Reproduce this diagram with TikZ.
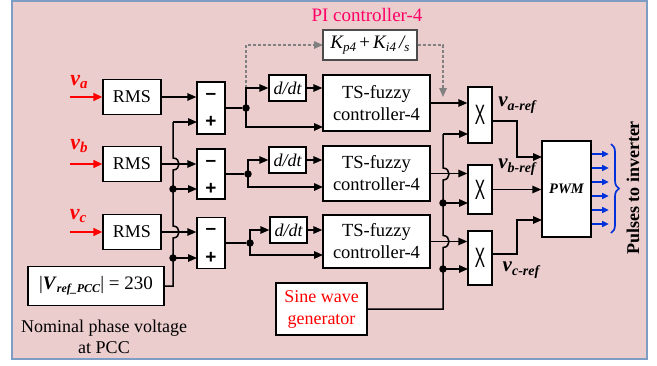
\documentclass[tikz,border=0pt]{standalone}
\usepackage{fontspec}
\setmainfont{Liberation Serif}
\newfontfamily\sansx{Liberation Sans}
\usetikzlibrary{arrows.meta,decorations.pathreplacing}
\definecolor{bgpink}{RGB}{236,205,205}
\definecolor{frameblue}{RGB}{126,157,197}
\definecolor{pilab}{RGB}{255,0,102}
\definecolor{pulseblue}{RGB}{0,50,220}
\newcommand{\sbs}[2][13]{\raisebox{-0.35ex}{\fontsize{#1}{#1}\selectfont #2}}
\tikzset{
  blk/.style={draw, fill=white, line width=1.4pt, inner sep=0pt, align=center,
    font=\fontsize{18}{22}\selectfont},
  wire/.style={line width=1.5pt},
  arr/.style={wire, -{Triangle[length=9pt,width=7.5pt]}},
  redarr/.style={line width=1.6pt, red, -{Triangle[length=9pt,width=8pt]}},
  bluearr/.style={line width=1.2pt, pulseblue, -{Triangle[length=6.5pt,width=6pt]}},
  gdash/.style={line width=1.5pt, gray, dash pattern=on 3pt off 2pt,
    -{Triangle[length=9pt,width=7.5pt]}},
  dotn/.style={circle, fill=black, inner sep=0pt, minimum size=7.5pt},
  sgn/.style={inner sep=0pt, font=\sansx\bfseries\fontsize{19}{19}\selectfont},
  xmark/.style={inner sep=0pt, font=\sansx\fontsize{28}{28}\selectfont},
  vin/.style={inner sep=0pt, text=red, font=\bfseries\itshape\fontsize{22}{22}\selectfont},
  vref/.style={inner sep=0pt, font=\bfseries\itshape\fontsize{21}{21}\selectfont},
}
\begin{document}
\begin{tikzpicture}[x=1pt,y=-1pt]
\useasboundingbox (0,0) rectangle (657,365);
\draw[fill=bgpink, draw=frameblue, line width=1.6pt] (12,1) rectangle (647,359);

% labels
\node[text=pilab, font=\fontsize{19}{22}\selectfont] (pilabel) at (367,15) {PI controller-4};

% RMS blocks
\node[blk, minimum width=58, minimum height=35] (rmsA) at (132,97) {RMS};
\node[blk, minimum width=58, minimum height=35] (rmsB) at (132,164) {RMS};
\node[blk, minimum width=58, minimum height=35] (rmsC) at (132,232) {RMS};

\coordinate (inA) at (70,97);
\coordinate (inB) at (70,164);
\coordinate (inC) at (70,232);
\draw[redarr] (inA) -- (rmsA.west);
\draw[redarr] (inB) -- (rmsB.west);
\draw[redarr] (inC) -- (rmsC.west);
\node[vin] (lA) at (79,82) {v\sbs[15]{a}};
\node[vin] (lB) at (79,146) {v\sbs[15]{b}};
\node[vin] (lC) at (78,216) {v\sbs[15]{c}};

% reference block
\node[blk, minimum width=136, minimum height=39, font=\fontsize{19}{22}\selectfont] (vrefbox) at (96,286)
  {|\textbf{\textit{V}}\sbs[12]{\textbf{\textit{ref\_PCC}}}| = 230};
\node[align=center, inner sep=0pt, font=\fontsize{18}{20.5}\selectfont] (nom) at (104,337)
  {Nominal phase voltage\\at PCC};

% summing blocks
\node[blk, minimum width=28, minimum height=52] (sumA) at (211,108) {};
\node[blk, minimum width=28, minimum height=50] (sumB) at (211,174) {};
\node[blk, minimum width=28, minimum height=51] (sumC) at (211,243) {};
\node[sgn] (sAm) at (211,96) {–};
\node[sgn] (sAp) at (211,122) {+};
\node[sgn] (sBm) at (211,163) {–};
\node[sgn] (sBp) at (211,189) {+};
\node[sgn] (sCm) at (211,231) {–};
\node[sgn] (sCp) at (211,258) {+};

\draw[arr] (rmsA.east) -- (rmsA.east -| sumA.west);
\draw[arr] (rmsB.east) -- (rmsB.east -| sumB.west);
\draw[arr] (rmsC.east) -- (rmsC.east -| sumC.west);

% reference bus
\coordinate (bTop) at (173,122);
\coordinate (bB) at (173,189);
\coordinate (bC) at (173,258);
\coordinate (bBot) at (173,286);
\coordinate (pA) at (197,122);
\coordinate (pB) at (197,189);
\coordinate (pC) at (197,258);
\draw[wire] (vrefbox.east) -- (bBot) -- (173,238) .. controls (181,238) and (181,226) .. (173,226)
  -- (173,170) .. controls (181,170) and (181,158) .. (173,158) -- (bTop);
\draw[arr] (bTop) -- (pA);
\draw[arr] (bB) -- (pB);
\draw[arr] (bC) -- (pC);
\node[dotn] (dB1) at (bB) {};
\node[dotn] (dC1) at (bC) {};

% d/dt blocks
\node[blk, minimum width=37, minimum height=26, font=\itshape\fontsize{18}{18}\selectfont] (ddtA) at (287.5,88) {d/dt};
\node[blk, minimum width=37, minimum height=26, font=\itshape\fontsize{18}{18}\selectfont] (ddtB) at (287.5,160) {d/dt};
\node[blk, minimum width=37, minimum height=26, font=\itshape\fontsize{18}{18}\selectfont] (ddtC) at (288.5,230) {d/dt};

% fuzzy blocks
\node[blk, minimum width=107, minimum height=56, font=\fontsize{18.5}{22}\selectfont] (fzA) at (376.5,103) {TS-fuzzy\\controller-4};
\node[blk, minimum width=107, minimum height=55, font=\fontsize{18.5}{22}\selectfont] (fzB) at (376.5,173.5) {TS-fuzzy\\controller-4};
\node[blk, minimum width=107, minimum height=53, font=\fontsize{18.5}{22}\selectfont] (fzC) at (376.5,241.5) {TS-fuzzy\\controller-4};

% error junctions
\node[dotn] (jA) at (246,108) {};
\node[dotn] (jB) at (248,174) {};
\node[dotn] (jC) at (250,243) {};
\draw[wire] (sumA.east |- jA) -- (jA);
\draw[wire] (sumB.east |- jB) -- (jB);
\draw[wire] (sumC.east |- jC) -- (jC);
\coordinate (jAu) at (246,88);
\draw[gdash] (jAu) -- (246,45) -- (323,45);
\draw[arr] (jA.center) |- (ddtA.west);
\draw[arr] (jB.center) |- (ddtB.west);
\draw[arr] (jC.center) |- (ddtC.west);
\coordinate (fA2) at (323,127);
\coordinate (fB2) at (323,187);
\coordinate (fC2) at (323,255);
\draw[arr] (jA.center) |- (fA2);
\draw[arr] (jB.center) |- (fB2);
\draw[arr] (jC.center) |- (fC2);
\draw[arr] (ddtA.east) -- (ddtA.east -| fzA.west);
\draw[arr] (ddtB.east) -- (ddtB.east -| fzB.west);
\draw[arr] (ddtC.east) -- (ddtC.east -| fzC.west);

% PI block
\node[blk, draw=black!70, line width=1.2pt, minimum width=94, minimum height=30, font=\itshape\fontsize{19}{19}\selectfont] (pi) at (370,45)
  {K\sbs{p4}\,{\upshape +}\,K\sbs{i4}\,/\sbs{s}};
\draw[gdash] (pi.east) -- (443,45) -- (443,97);

% multipliers
\node[blk, minimum width=24, minimum height=56] (mA) at (480,115) {};
\node[blk, minimum width=24, minimum height=49] (mB) at (480,189.5) {};
\node[blk, minimum width=24, minimum height=54] (mC) at (480,258) {};
\node[xmark] (xA) at (480,115) {\scalebox{0.55}[1]{X}};
\node[xmark] (xB) at (480,189.5) {\scalebox{0.55}[1]{X}};
\node[xmark] (xC) at (480,258) {\scalebox{0.55}[1]{X}};

\draw[arr] (fzA.east) -- (fzA.east -| mA.west);
\draw[arr] (fzB.east) -- (fzB.east -| mB.west);
\draw[arr] (fzC.east) -- (fzC.east -| mC.west);

% sine wave generator and bus
\node[blk, text=red, minimum width=91, minimum height=52, font=\fontsize{18}{22}\selectfont] (sine) at (321.5,309) {Sine wave\\generator};
\coordinate (sTop) at (443,134);
\coordinate (sB) at (443,203);
\coordinate (sC) at (443,269);
\coordinate (sBot) at (443,309);
\draw[wire] (sine.east) -- (sBot) -- (443,247.5) .. controls (451,247.5) and (451,235.5) .. (443,235.5)
  -- (443,180) .. controls (451,180) and (451,168) .. (443,168) -- (sTop);
\coordinate (mA2) at (468,134);
\coordinate (mB2) at (468,203);
\coordinate (mC2) at (468,269);
\draw[arr] (sTop) -- (mA2);
\draw[arr] (sB) -- (mB2);
\draw[arr] (sC) -- (mC2);
\node[dotn] (dsB) at (sB) {};
\node[dotn] (dsC) at (sC) {};

% PWM
\node[blk, minimum width=49, minimum height=96, font=\bfseries\itshape\fontsize{14.5}{14.5}\selectfont] (pwm) at (566.5,189) {PWM};
\coordinate (oA) at (492,121);
\coordinate (oC) at (492,254);
\coordinate (qA) at (542,157);
\coordinate (qC) at (542,220);
\draw[arr] (oA) -- (517,121) -- (517,157) -- (qA);
\draw[arr] (mB.east) -- (mB.east -| pwm.west);
\draw[arr] (oC) -- (517,254) -- (517,220) -- (qC);
\node[vref] (vra) at (517,105) {v\sbs[14]{a-ref}};
\node[vref] (vrb) at (517,167) {v\sbs[14]{b-ref}};
\node[vref] (vrc) at (521,270) {v\sbs[14]{c-ref}};

% pulses
\foreach \o in {35,21,7,-7,-21,-35}
  \draw[bluearr] ([yshift=\o pt]pwm.east) -- ++(17,0);
\draw[pulseblue, line width=1.7pt, decorate, decoration={brace, amplitude=8pt}] (611,144) -- (611,233);
\node[rotate=90, inner sep=0pt, font=\bfseries\fontsize{18}{18}\selectfont] (pulses) at (633,188) {Pulses to inverter};
\end{tikzpicture}
\end{document}
